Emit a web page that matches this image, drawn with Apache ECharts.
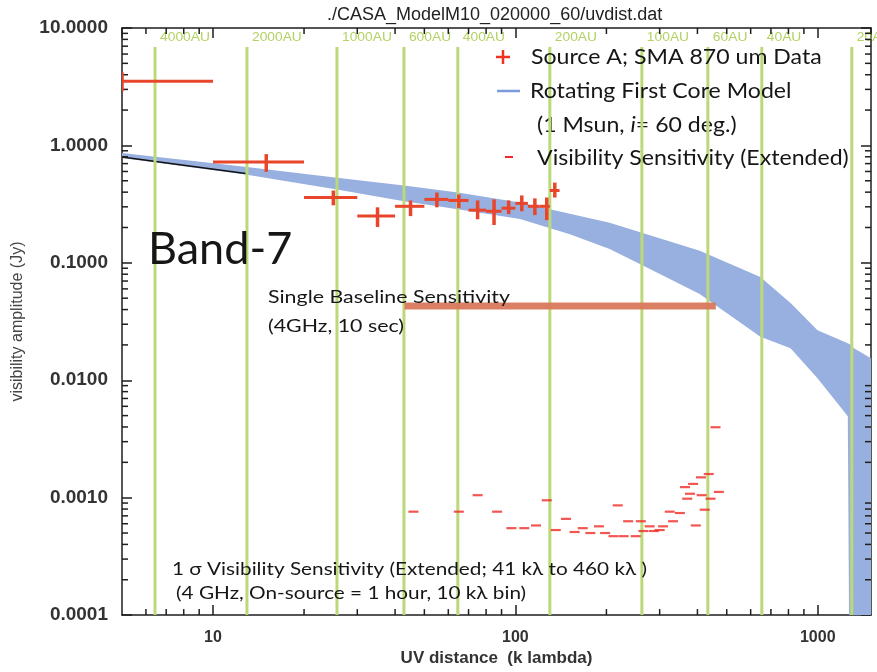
<!DOCTYPE html>
<html>
<head>
<meta charset="utf-8">
<script src="https://cdn.jsdelivr.net/npm/echarts@6/dist/echarts.min.js"></script>
<style>
html,body{margin:0;padding:0;background:#fff;}
#chart{width:877px;height:672px;}
</style>
</head>
<body>
<div id="chart"></div>
<script>
// SMA 870 um visibilities of Source A, binned in uv distance (k lambda)
const dataUv      = [5, 15, 25, 35, 45, 55, 65, 75, 85, 95, 105, 116, 127, 135];
const dataUvLow   = [1, 10, 20, 30, 40, 50, 60, 70, 80, 90, 100, 110, 120, 130];
const dataUvHigh  = [10, 20, 30, 40, 50, 60, 70, 80, 90, 100, 110, 120, 130, 140];
const dataAmp     = [3.52, 0.723, 0.360, 0.250, 0.303, 0.347, 0.340, 0.281, 0.275, 0.292, 0.321, 0.303, 0.303, 0.413];
const dataAmpLow  = [2.90, 0.596, 0.309, 0.202, 0.250, 0.297, 0.292, 0.235, 0.210, 0.260, 0.275, 0.255, 0.231, 0.360];
const dataAmpHigh = [4.19, 0.843, 0.413, 0.297, 0.340, 0.397, 0.382, 0.340, 0.347, 0.340, 0.375, 0.354, 0.360, 0.482];

// Rotating first core model (1 Msun, i = 60 deg): envelope of model amplitudes
const modelUv    = [5, 12.95, 25.7, 42.8, 64.5, 103.5, 151.4, 205, 262, 407, 646, 813, 998, 1257, 1276, 1317, 1500];
const modelUpper = [0.861, 0.656, 0.531, 0.455, 0.397, 0.327, 0.262, 0.220, 0.180, 0.127, 0.0757, 0.0456, 0.0267, 0.0207, 0.0203, 0.0187, 0.0154];
const modelLower = [0.782, 0.562, 0.421, 0.334, 0.286, 0.236, 0.175, 0.131, 0.0960, 0.0543, 0.0235, 0.0187, 0.0104, 0.00493, 0.00001, 0.00001, 0.00001];

// Short reference model curve at the shortest baselines
const refLineUv  = [5, 13];
const refLineAmp = [0.796, 0.573];

// 1-sigma visibility sensitivity (extended), 10 k lambda bins
const sensUv  = [46, 65, 75, 87, 97, 107, 117, 127, 136, 147, 157, 167, 177, 189, 198, 211, 218, 228, 236, 250,
                 260, 265, 278, 287, 300, 308, 324, 332, 350, 364, 370, 378, 387, 395, 411, 413, 423, 436, 442, 459, 471];
const sensAmp = [7.6e-4, 7.6e-4, 1.05e-3, 7.6e-4, 5.5e-4, 5.5e-4, 5.8e-4, 9.5e-4, 5.3e-4, 6.6e-4, 5.1e-4, 5.5e-4, 5.0e-4, 5.7e-4, 5.0e-4, 4.7e-4, 8.6e-4, 4.7e-4, 6.3e-4, 4.7e-4,
                 6.3e-4, 5.2e-4, 5.7e-4, 5.2e-4, 5.3e-4, 5.7e-4, 7.6e-4, 6.3e-4, 7.4e-4, 1.23e-3, 9.8e-4, 1.08e-3, 1.31e-3, 5.8e-4, 1.49e-3, 1.05e-3, 7.9e-4, 1.59e-3, 9.8e-4, 3.98e-3, 1.12e-3];

// Single baseline sensitivity (4 GHz, 10 sec)
const baselineUv  = [43, 460];
const baselineAmp = [0.043, 0.043];

// Spatial scale markers (AU) and their uv distances
const auLabels = ['4000AU', '2000AU', '1000AU', '600AU', '400AU', '200AU', '100AU', '60AU', '40AU', '20AU'];
const auUv     = [6.43, 12.95, 25.7, 42.8, 64.5, 130, 262, 433, 653, 1296];

// Axis ranges and tick values
const xMin = 5, xMax = 1500;
const yMin = 0.0001, yMax = 10;
const xMajorLabels = [10, 100, 1000];
const xMinorTicks = [6, 7, 8, 9, 20, 30, 40, 50, 60, 70, 80, 90, 200, 300, 400, 500, 600, 700, 800, 900];
const yDecades = [0.0001, 0.001, 0.01, 0.1, 1];
const yMantissas = [2, 3, 4, 5, 6, 7, 8, 9];

const yMinorTicks = [];
yDecades.forEach(d => yMantissas.forEach(m => yMinorTicks.push(+(d * m).toPrecision(3))));

const txtFont = 'Lato, "Noto Sans", "DejaVu Sans", sans-serif';
const axisFont = '"Liberation Sans", Arial, sans-serif';
const RED = '#e8452b';
const GREEN = '#bcd978';
const INK = '#161616';

const chart = echarts.init(document.getElementById('chart'), null, { renderer: 'canvas' });

const axisLineStyle = { color: '#1e1e1e', width: 1.5 };

// plain text block, optionally widened horizontally
function label(x, y, text, size, sx, extra) {
  return Object.assign({
    type: 'text', z: 20, x: x, y: y, scaleX: sx || 1,
    style: { text: text, font: size + 'px ' + txtFont, fill: INK, verticalAlign: 'middle' }
  }, extra || {});
}

const option = {
  animation: false,
  backgroundColor: '#ffffff',
  title: {
    text: './CASA_ModelM10_020000_60/uvdist.dat',
    left: 322, top: 1,
    textStyle: { fontFamily: axisFont, fontSize: 18, fontWeight: 'normal', color: '#222' }
  },
  grid: { left: 122, right: 6, top: 28, bottom: 48, containLabel: false },
  xAxis: [
    {
      type: 'log', logBase: 10, min: xMin, max: xMax, position: 'bottom',
      axisLine: { lineStyle: axisLineStyle },
      axisTick: { inside: true, length: 10, lineStyle: axisLineStyle },
      splitLine: { show: false },
      axisLabel: {
        showMinLabel: false, showMaxLabel: false, margin: 14,
        fontFamily: axisFont, fontSize: 16, fontWeight: 'bold', color: '#333',
        formatter: v => xMajorLabels.includes(Math.round(v)) ? String(Math.round(v)) : ''
      },
      name: 'UV distance  (k lambda)', nameLocation: 'middle', nameGap: 29,
      nameTextStyle: { fontFamily: axisFont, fontSize: 17, fontWeight: 'bold', color: '#333' }
    },
    {
      type: 'log', logBase: 10, min: xMin, max: xMax, position: 'top',
      axisLine: { lineStyle: axisLineStyle },
      axisTick: { inside: true, length: 10, lineStyle: axisLineStyle },
      axisLabel: { show: false },
      splitLine: { show: false }
    }
  ],
  yAxis: [
    {
      type: 'log', logBase: 10, min: yMin, max: yMax, position: 'left',
      axisLine: { lineStyle: axisLineStyle },
      axisTick: { inside: true, length: 10, lineStyle: axisLineStyle },
      splitLine: { show: false },
      axisLabel: {
        margin: 14,
        fontFamily: axisFont, fontSize: 19, fontWeight: 'bold', color: '#333',
        formatter: v => v.toFixed(4)
      },
      name: 'visibility amplitude (Jy)', nameLocation: 'middle', nameGap: 96,
      nameTextStyle: { fontFamily: axisFont, fontSize: 16, color: '#444' }
    },
    {
      type: 'log', logBase: 10, min: yMin, max: yMax, position: 'right',
      axisLine: { lineStyle: axisLineStyle },
      axisTick: { inside: true, length: 10, lineStyle: axisLineStyle },
      axisLabel: { show: false },
      splitLine: { show: false }
    }
  ],
  series: [
    // model envelope band
    {
      type: 'custom', name: 'Rotating First Core Model', clip: true, z: 1,
      data: [[modelUv[0], modelUpper[0]]],
      renderItem: (params, api) => {
        const pts = [];
        for (let i = 0; i < modelUv.length; i++) pts.push(api.coord([modelUv[i], modelUpper[i]]));
        for (let i = modelUv.length - 1; i >= 0; i--) pts.push(api.coord([modelUv[i], modelLower[i]]));
        return { type: 'polygon', shape: { points: pts }, style: { fill: '#98b0df', stroke: 'none' } };
      }
    },
    // short reference model curve
    {
      type: 'line', z: 2, symbol: 'none', silent: true,
      data: refLineUv.map((u, i) => [u, refLineAmp[i]]),
      lineStyle: { color: '#111', width: 1.4 }
    },
    // AU scale markers
    {
      type: 'custom', clip: false, z: 3,
      data: auUv.map(u => [u, 1]),
      renderItem: (params, api) => {
        const cs = params.coordSys;
        const px = api.coord([api.value(0), 1])[0];
        return {
          type: 'group', children: [
            { type: 'line', shape: { x1: px, y1: cs.y + 19, x2: px, y2: cs.y + cs.height },
              style: { stroke: GREEN, lineWidth: 3 } },
            { type: 'text', x: px + 5, y: cs.y + 10, scaleX: 1.15,
              style: { text: auLabels[params.dataIndex], fill: '#b3d263', font: '12px ' + axisFont,
                       verticalAlign: 'middle', align: 'left' } }
          ]
        };
      }
    },
    // minor ticks along x (bottom and top)
    {
      type: 'custom', clip: false, z: 6, silent: true,
      data: xMinorTicks.map(u => [u, 1]),
      renderItem: (params, api) => {
        const cs = params.coordSys;
        const px = api.coord([api.value(0), 1])[0];
        const st = { stroke: '#1e1e1e', lineWidth: 1.5 };
        return { type: 'group', children: [
          { type: 'line', shape: { x1: px, y1: cs.y + cs.height, x2: px, y2: cs.y + cs.height - 6 }, style: st },
          { type: 'line', shape: { x1: px, y1: cs.y, x2: px, y2: cs.y + 6 }, style: st }
        ] };
      }
    },
    // minor ticks along y (left and right)
    {
      type: 'custom', clip: false, z: 6, silent: true,
      data: yMinorTicks.map(v => [10, v]),
      renderItem: (params, api) => {
        const cs = params.coordSys;
        const py = api.coord([10, api.value(1)])[1];
        const st = { stroke: '#1e1e1e', lineWidth: 1.5 };
        return { type: 'group', children: [
          { type: 'line', shape: { x1: cs.x, y1: py, x2: cs.x + 6, y2: py }, style: st },
          { type: 'line', shape: { x1: cs.x + cs.width, y1: py, x2: cs.x + cs.width - 6, y2: py }, style: st }
        ] };
      }
    },
    // single baseline sensitivity
    {
      type: 'line', z: 4, symbol: 'none', silent: true,
      data: baselineUv.map((u, i) => [u, baselineAmp[i]]),
      lineStyle: { color: '#d9785c', width: 7, opacity: 0.95 }
    },
    // visibility sensitivity (extended)
    {
      type: 'scatter', name: 'Visibility Sensitivity (Extended)', z: 5,
      symbol: 'rect', symbolSize: [10, 2.2],
      itemStyle: { color: '#f02a26' },
      data: sensUv.map((u, i) => [u, sensAmp[i]])
    },
    // SMA data with error bars
    {
      type: 'custom', name: 'Source A; SMA 870 um Data', clip: true, z: 7,
      data: dataUv.map((u, i) => [u, dataAmp[i], dataUvLow[i], dataUvHigh[i], dataAmpLow[i], dataAmpHigh[i]]),
      renderItem: (params, api) => {
        const u = api.value(0), a = api.value(1);
        const c = api.coord([u, a]);
        const l = api.coord([api.value(2), a]);
        const h = api.coord([api.value(3), a]);
        const lo = api.coord([u, api.value(4)]);
        const hi = api.coord([u, api.value(5)]);
        return { type: 'group', children: [
          { type: 'line', shape: { x1: l[0], y1: c[1], x2: h[0], y2: c[1] }, style: { stroke: RED, lineWidth: 3 } },
          { type: 'line', shape: { x1: c[0], y1: hi[1], x2: c[0], y2: lo[1] }, style: { stroke: RED, lineWidth: 3.5 } }
        ] };
      }
    }
  ],
  graphic: [
    // legend
    { type: 'group', z: 20, children: [
      { type: 'line', shape: { x1: 496, y1: 57, x2: 510, y2: 57 }, style: { stroke: '#ee3322', lineWidth: 2.5 } },
      { type: 'line', shape: { x1: 503, y1: 50, x2: 503, y2: 64 }, style: { stroke: '#ee3322', lineWidth: 2.5 } },
      label(531, 57, 'Source A; SMA 870 um Data', 21, 1.1),
      { type: 'line', shape: { x1: 497, y1: 91, x2: 520, y2: 91 }, style: { stroke: '#7b9bd8', lineWidth: 2.5 } },
      label(530, 91, 'Rotating First Core Model', 21, 1.1),
      { type: 'text', x: 537, y: 125, scaleX: 1.1, style: {
          text: '{n|(1 Msun, }{i|i}{n|= 60 deg.)}', verticalAlign: 'middle',
          rich: { n: { font: '21px ' + txtFont, fill: INK }, i: { font: 'italic 21px ' + txtFont, fill: INK } } } },
      { type: 'line', shape: { x1: 505, y1: 157, x2: 513, y2: 157 }, style: { stroke: '#f02a26', lineWidth: 2 } },
      label(537, 158, 'Visibility Sensitivity (Extended)', 21, 1.1)
    ] },
    // annotations
    label(148, 249, 'Band-7', 45, 1),
    label(268, 297, 'Single Baseline Sensitivity', 17.5, 1.22),
    label(268, 326, '(4GHz, 10 sec)', 17.5, 1.22),
    label(172, 570, '1 σ Visibility Sensitivity (Extended; 41 kλ to 460 kλ )', 17, 1.22),
    label(176, 594, '(4 GHz, On-source = 1 hour, 10 kλ bin)', 17, 1.22)
  ]
};

chart.setOption(option);
</script>
</body>
</html>
